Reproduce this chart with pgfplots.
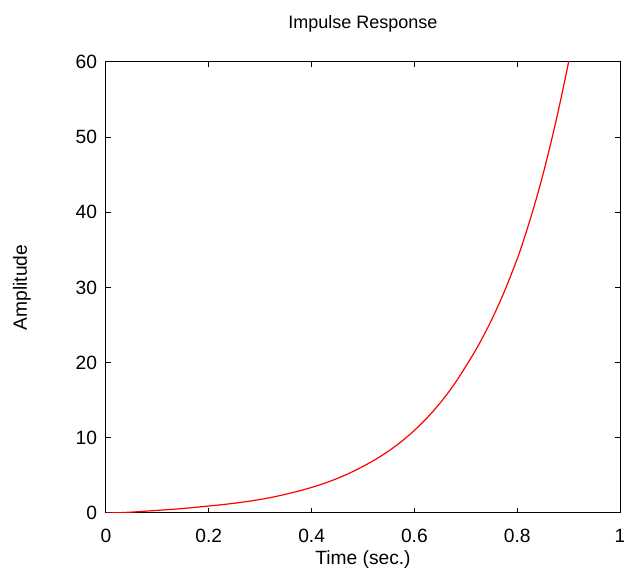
\documentclass[border=0pt]{standalone}
\usepackage{pgfplots}
\pgfplotsset{compat=1.18}
\usepackage{fontspec}
\setmainfont{Liberation Sans}
\begin{document}
\begin{tikzpicture}[x=1pt,y=1pt]
\begin{axis}[
  name=ax,
  scale only axis,
  width=257pt, height=225.5pt,
  xmin=0, xmax=1, ymin=0, ymax=60,
  xtick={0,0.2,0.4,0.6,0.8,1},
  xticklabels={0,0.2,0.4,0.6,0.8,1},
  ytick={0,10,20,30,40,50,60},
  tick pos=both, tick align=inside,
  major tick length=2.5pt,
  tick style={black, line width=0.5pt},
  axis line style={black, line width=0.5pt},
  /pgf/number format/assume math mode=true,
  ticklabel style={font=\fontsize{9.6}{11}\selectfont},
  xticklabel style={yshift=-4.5pt},
  yticklabel style={xshift=-1pt},
  label style={font=\fontsize{9.6}{11}\selectfont},
  title={Impulse Response},
  title style={font=\fontsize{9}{11}\selectfont, at={(axis description cs:0.5,1)}, anchor=center, yshift=13pt},
  xlabel={Time (sec.)},
  xlabel style={at={(axis description cs:0.5,0)}, anchor=center, yshift=-23.5pt},
  ylabel={Amplitude},
  ylabel style={at={(axis description cs:0,0.5)}, anchor=center, yshift=42pt},
  clip=true,
]
\addplot[red, line width=0.6pt, smooth] coordinates {
(0,0) (0.025,0.04) (0.05,0.12) (0.075,0.23) (0.1,0.35) (0.125,0.47) (0.15,0.6)
(0.175,0.76) (0.2,0.93) (0.225,1.1) (0.25,1.3) (0.275,1.53)
(0.3,1.8) (0.325,2.12) (0.35,2.5) (0.375,2.92) (0.4,3.4) (0.425,3.95)
(0.45,4.6) (0.475,5.34) (0.5,6.2) (0.525,7.15) (0.55,8.25) (0.575,9.52) (0.6,10.99)
(0.625,12.68) (0.65,14.63) (0.675,16.88) (0.7,19.5) (0.725,22.37) (0.75,25.67)
(0.775,29.46) (0.8,33.8) (0.8125,36.3) (0.825,39.0) (0.8375,41.9) (0.85,45.0)
(0.8625,48.4) (0.875,52.0) (0.8875,55.9) (0.9,60.0) (0.91,63.5)
};
\end{axis}
\pgfresetboundingbox
\path[use as bounding box] ([xshift=-53pt,yshift=-30pt]ax.south west) rectangle ([xshift=2pt,yshift=31pt]ax.north east);
\end{tikzpicture}
\end{document}
